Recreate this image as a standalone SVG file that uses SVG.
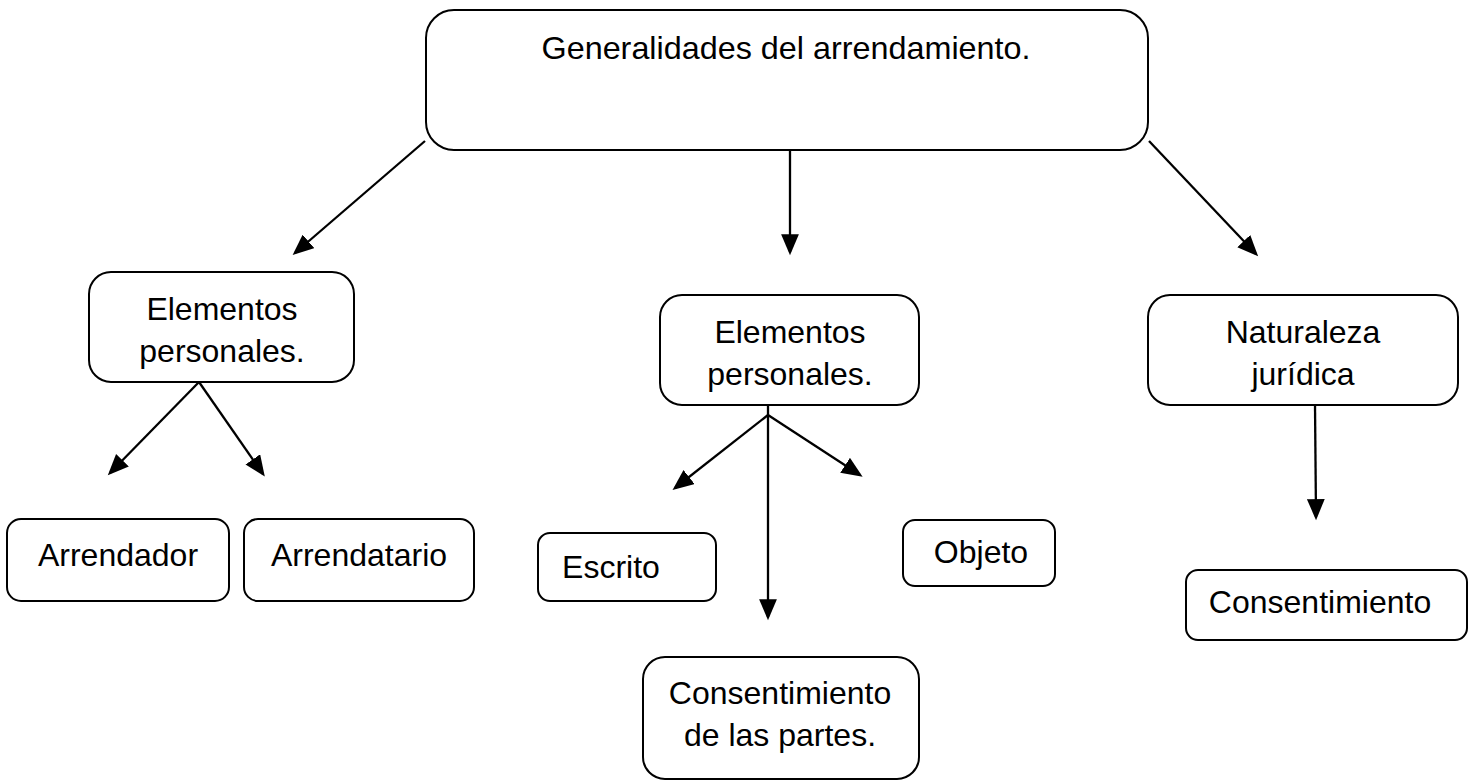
<svg xmlns="http://www.w3.org/2000/svg" width="1473" height="782" viewBox="0 0 1473 782">
<style>
.box{fill:#fff;stroke:#000;stroke-width:2}
.t{font-family:"Liberation Sans",Arial,sans-serif;font-size:32px;fill:#000;text-anchor:middle}
.c{stroke:#000;stroke-width:2.3;fill:none;marker-end:url(#ah)}
</style>
<defs>
<marker id="ah" markerUnits="userSpaceOnUse" markerWidth="22" markerHeight="18" refX="17" refY="8.5" orient="auto" viewBox="0 0 21 17">
<path d="M0,0 L20,8.5 L0,17 z" fill="#000"/>
</marker>
</defs>
<rect width="1473" height="782" fill="#fff"/>
<g id="connectors">
<line class="c" x1="425" y1="141" x2="295" y2="253"/>
<line class="c" x1="790" y1="150" x2="790" y2="252"/>
<line class="c" x1="1149" y1="141" x2="1256" y2="254"/>
<line class="c" x1="199" y1="382" x2="110" y2="473"/>
<line class="c" x1="199" y1="382" x2="263" y2="474"/>
<line class="c" x1="768" y1="405" x2="768" y2="617"/>
<line class="c" x1="768" y1="415" x2="675" y2="488"/>
<line class="c" x1="768" y1="415" x2="860" y2="475"/>
<line class="c" x1="1315" y1="405" x2="1316" y2="517"/>
</g>
<g id="n-top">
<rect class="box" x="426" y="10" width="722" height="140" rx="28"/>
<text class="t" x="786" y="59" textLength="489" lengthAdjust="spacingAndGlyphs">Generalidades del arrendamiento.</text>
</g>
<g id="n-left">
<rect class="box" x="89" y="272" width="265" height="110" rx="22"/>
<text class="t" x="222" y="320">Elementos</text>
<text class="t" x="222" y="362">personales.</text>
</g>
<g id="n-mid">
<rect class="box" x="660" y="295" width="259" height="110" rx="22"/>
<text class="t" x="790" y="343">Elementos</text>
<text class="t" x="790" y="385">personales.</text>
</g>
<g id="n-right">
<rect class="box" x="1148" y="295" width="310" height="110" rx="22"/>
<text class="t" x="1303" y="343">Naturaleza</text>
<text class="t" x="1303" y="385">jurídica</text>
</g>
<g id="n-arrendador">
<rect class="box" x="7" y="519" width="222" height="82" rx="14"/>
<text class="t" x="118" y="566">Arrendador</text>
</g>
<g id="n-arrendatario">
<rect class="box" x="244" y="519" width="230" height="82" rx="14"/>
<text class="t" x="359" y="566">Arrendatario</text>
</g>
<g id="n-escrito">
<rect class="box" x="538" y="533" width="178" height="68" rx="12"/>
<text class="t" x="611" y="578">Escrito</text>
</g>
<g id="n-objeto">
<rect class="box" x="903" y="520" width="152" height="66" rx="12"/>
<text class="t" x="981" y="563">Objeto</text>
</g>
<g id="n-consent">
<rect class="box" x="1186" y="570" width="281" height="70" rx="12"/>
<text class="t" x="1320" y="613">Consentimiento</text>
</g>
<g id="n-consent-partes">
<rect class="box" x="643" y="657" width="276" height="122" rx="22"/>
<text class="t" x="780" y="704">Consentimiento</text>
<text class="t" x="780" y="746">de las partes.</text>
</g>
</svg>
